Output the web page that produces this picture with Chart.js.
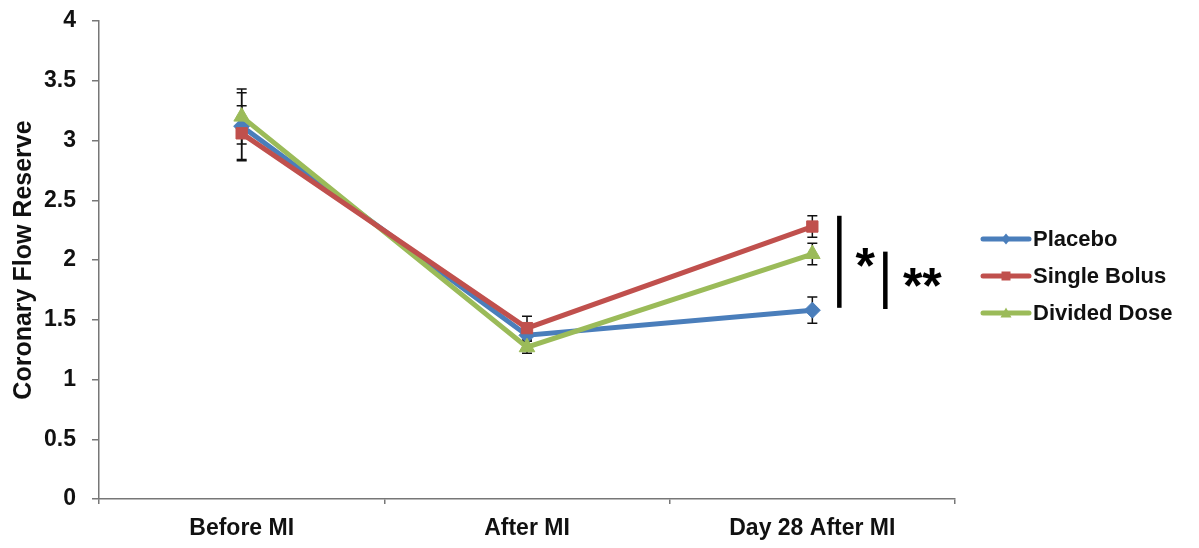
<!DOCTYPE html>
<html>
<head>
<meta charset="utf-8">
<script src="https://cdn.jsdelivr.net/npm/chart.js@4.4.1/dist/chart.umd.min.js"></script>
<style>
  html, body { margin: 0; padding: 0; background: #fff; }
  #wrap { width: 1199px; height: 548px; }
</style>
</head>
<body>
<div id="wrap"><canvas id="c" width="1199" height="548"></canvas></div>
<script>
// Time points along the x axis
const timePoints = ['Before MI', 'After MI', 'Day 28 After MI'];

// Mean coronary flow reserve per group
const placebo      = [3.12, 1.37, 1.58];
const singleBolus  = [3.06, 1.43, 2.28];
const dividedDose  = [3.20, 1.27, 2.05];

// Error bar half-widths (same order as the time points)
const placeboErr     = [0.28, 0.05, 0.11];
const singleBolusErr = [0.23, 0.10, 0.09];
const dividedDoseErr = [0.23, 0.05, 0.09];

// Y axis ticks
const yTicks = [0, 0.5, 1, 1.5, 2, 2.5, 3, 3.5, 4];

// Significance brackets at Day 28: value span and marker text
const sigLabels = ['*', '**'];
const sigFrom   = [2.37, 2.07];
const sigTo     = [1.60, 1.59];

const FONT = '"Liberation Sans", Arial, sans-serif';
const TEXT = '#111';

const series = [
  { label: 'Placebo',      data: placebo,     err: placeboErr,     color: '#4a7ebb', style: 'rectRot',  radius: 8, order: 2 },
  { label: 'Single Bolus', data: singleBolus, err: singleBolusErr, color: '#c0504d', style: 'rect',     radius: 8, order: 0 },
  { label: 'Divided Dose', data: dividedDose, err: dividedDoseErr, color: '#9bbb59', style: 'triangle', radius: 9, order: 1 }
];

// Whiskers drawn underneath the lines and markers
const errorBars = {
  id: 'errorBars',
  beforeDatasetsDraw(chart) {
    const ctx = chart.ctx, x = chart.scales.x, y = chart.scales.y;
    ctx.save();
    ctx.strokeStyle = '#111';
    ctx.lineWidth = 1.5;
    chart.data.datasets.forEach(ds => {
      ds.data.forEach((v, i) => {
        const px = x.getPixelForValue(i);
        const hi = y.getPixelForValue(v + ds.err[i]);
        const lo = y.getPixelForValue(v - ds.err[i]);
        ctx.beginPath();
        ctx.moveTo(px, hi); ctx.lineTo(px, lo);
        ctx.moveTo(px - 5, hi); ctx.lineTo(px + 5, hi);
        ctx.moveTo(px - 5, lo); ctx.lineTo(px + 5, lo);
        ctx.stroke();
      });
    });
    ctx.restore();
  }
};

// Significance bars beside the last time point, plus the legend on the right
const extras = {
  id: 'extras',
  afterDraw(chart) {
    const ctx = chart.ctx, x = chart.scales.x, y = chart.scales.y;
    const base = x.getPixelForValue(timePoints.length - 1);
    ctx.save();
    ctx.strokeStyle = '#000';
    ctx.fillStyle = '#000';
    ctx.lineWidth = 4.5;
    const barX = [base + 27, base + 73];
    const textX = [base + 53, base + 110];
    const baselineDy = [21, 23];
    sigLabels.forEach((t, i) => {
      const y1 = y.getPixelForValue(sigFrom[i]);
      const y2 = y.getPixelForValue(sigTo[i]);
      ctx.beginPath();
      ctx.moveTo(barX[i], y1); ctx.lineTo(barX[i], y2);
      ctx.stroke();
      ctx.font = 'bold 50px ' + FONT;
      ctx.textAlign = 'center';
      ctx.textBaseline = 'alphabetic';
      ctx.fillText(t, textX[i], (y1 + y2) / 2 + baselineDy[i]);
    });

    // legend
    const lx = 983, ly = 239, step = 37;
    chart.data.datasets.forEach((ds, i) => {
      const cy = ly + i * step;
      const mx = lx + 23;
      ctx.strokeStyle = ds.borderColor;
      ctx.lineWidth = 5;
      ctx.lineCap = 'round';
      ctx.beginPath();
      ctx.moveTo(lx, cy); ctx.lineTo(lx + 46, cy);
      ctx.stroke();
      ctx.fillStyle = ds.borderColor;
      ctx.beginPath();
      const r = 4.5;
      if (ds.pointStyle === 'rect') ctx.rect(mx - r, cy - r, 2 * r, 2 * r);
      else if (ds.pointStyle === 'triangle') { ctx.moveTo(mx, cy - r - 1); ctx.lineTo(mx + r + 1, cy + r); ctx.lineTo(mx - r - 1, cy + r); ctx.closePath(); }
      else { ctx.moveTo(mx, cy - r - 1); ctx.lineTo(mx + r, cy); ctx.lineTo(mx, cy + r + 1); ctx.lineTo(mx - r, cy); ctx.closePath(); }
      ctx.fill();
      ctx.fillStyle = TEXT;
      ctx.font = 'bold 22px ' + FONT;
      ctx.textAlign = 'left';
      ctx.textBaseline = 'middle';
      ctx.fillText(ds.label, lx + 50, cy + 1);
    });
    ctx.restore();
  }
};

new Chart(document.getElementById('c'), {
  type: 'line',
  data: {
    labels: timePoints,
    datasets: series.map(s => ({
      label: s.label,
      data: s.data,
      err: s.err,
      borderColor: s.color,
      backgroundColor: s.color,
      borderWidth: 5,
      pointStyle: s.style,
      pointRadius: s.radius,
      pointHoverRadius: s.radius,
      pointBackgroundColor: s.color,
      pointBorderColor: s.color,
      pointBorderWidth: 1,
      tension: 0,
      order: s.order
    }))
  },
  options: {
    responsive: false,
    animation: false,
    devicePixelRatio: 1,
    layout: { padding: { top: 21, right: 244, left: 0, bottom: 0 } },
    plugins: { legend: { display: false }, tooltip: { enabled: false } },
    scales: {
      x: {
        type: 'category',
        offset: true,
        grid: { display: true, offset: true, drawOnChartArea: false, drawTicks: true, tickLength: 5, color: '#777', lineWidth: 1.5 },
        border: { display: true, color: '#777', width: 1.5 },
        ticks: { color: TEXT, font: { family: FONT, size: 23, weight: 'bold' }, padding: 11, maxRotation: 0 },
        afterFit(s) { s.height = 49; }
      },
      y: {
        min: 0, max: 4,
        afterBuildTicks(s) { s.ticks = yTicks.map(v => ({ value: v })); },
        grid: { display: true, drawOnChartArea: false, drawTicks: true, tickLength: 7, color: '#777', lineWidth: 1.5 },
        border: { display: true, color: '#777', width: 1.5 },
        ticks: { color: TEXT, font: { family: FONT, size: 23, weight: 'bold' }, padding: 16, callback: v => String(v) },
        title: { display: true, text: 'Coronary Flow Reserve', color: TEXT, font: { family: FONT, size: 25, weight: 'bold' }, padding: { top: 9, bottom: 0 } },
        afterFit(s) { s.width = 99; s.paddingTop = 0; s.paddingBottom = 0; }
      }
    }
  },
  plugins: [errorBars, extras]
});
</script>
</body>
</html>
